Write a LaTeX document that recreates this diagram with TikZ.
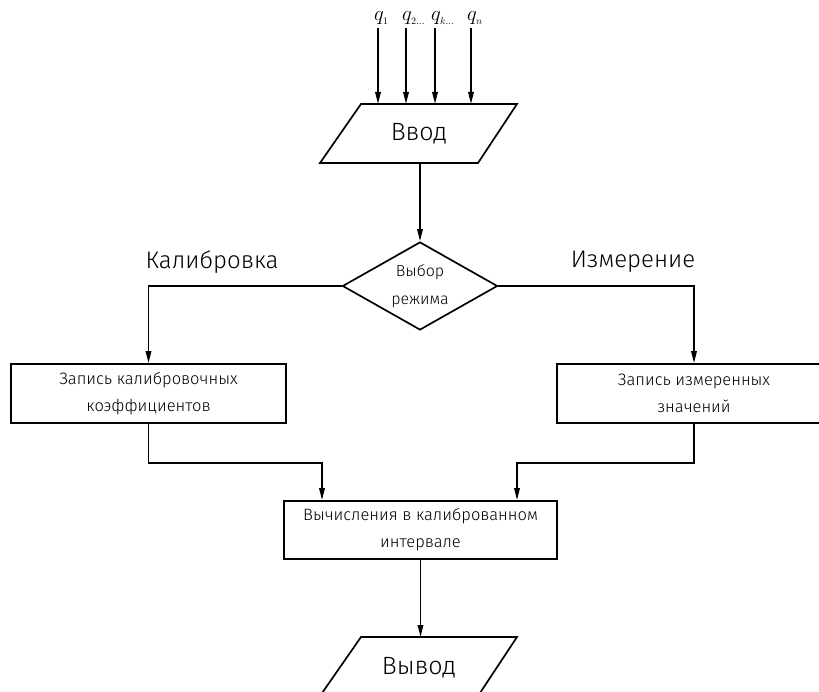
\documentclass[tikz,border=0pt]{standalone}
\usepackage{fontspec}
\setmainfont{Fira Sans Light}
\usetikzlibrary{arrows.meta,shapes.geometric}
\begin{document}
\begin{tikzpicture}[x=1pt,y=-1pt,
  line/.style={line width=1.7pt},
  arr/.style={line width=1.7pt,-{Triangle[length=12pt,width=5.5pt]}},
  box/.style={draw,line width=1.7pt,rectangle,inner sep=0pt,align=center,
    minimum height=59pt,font=\fontsize{16.5}{27}\selectfont},
  big/.style={font=\fontsize{25}{30}\selectfont},
  lbl/.style={font=\fontsize{24}{28}\selectfont},
  qlbl/.style={font=\fontsize{20}{22}\selectfont,inner sep=0pt}]
\useasboundingbox (0,0) rectangle (819,692);
\clip (0,0) rectangle (819,692);
% input parallelogram
\coordinate (inTL) at (361,104);
\coordinate (inTR) at (517,104);
\coordinate (inBR) at (478,163);
\coordinate (inBL) at (320,163);
\coordinate (inB) at (420,163);
\draw[line] (inTL) -- (inTR) -- (inBR) -- (inBL) -- cycle;
\node[big] (vvod) at (419,134) {Ввод};
% inputs
\node[qlbl,anchor=base west] (q1) at (374,21) {$q_{\scriptscriptstyle 1}$};
\node[qlbl,anchor=base west] (q2) at (402,21) {$q_{\scriptscriptstyle 2\ldots}$};
\node[qlbl,anchor=base west] (qk) at (431,21) {$q_{\scriptscriptstyle k\ldots}$};
\node[qlbl,anchor=base west] (qn) at (467,21) {$q_{\scriptscriptstyle n}$};
\coordinate (q1s) at (378,28);
\coordinate (q2s) at (406,28);
\coordinate (qks) at (435,28);
\coordinate (qns) at (471,28);
\foreach \c in {q1s,q2s,qks,qns}
  \draw[arr] (\c) -- (\c |- inTL);
% decision
\node[draw,diamond,aspect=1.76,minimum width=155pt,minimum height=88pt,
  inner sep=0pt,line width=1.7pt,align=center,
  font=\fontsize{16}{28}\selectfont] (dia) at (420,286) {Выбор\\режима};
\draw[arr] (inB) -- (dia.north);
\node[lbl] (cal) at (212,262) {Калибровка};
\node[lbl] (mes) at (633,262) {Измерение};
% boxes
\node[box,minimum width=275pt] (boxL) at (148.5,393.5) {Запись калибровочных\\коэффициентов};
\node[box,minimum width=274pt] (boxR) at (694,393.5) {Запись измеренных\\значений};
\node[box,minimum width=273pt,minimum height=58pt] (calc) at (420.5,530) {Вычисления в калиброванном\\интервале};
\draw[arr] (dia.west) -| (boxL.north);
\draw[arr] (dia.east) -| (boxR.north);
\draw[arr] (boxL.south) -- ++(0,39) -| ([xshift=-98.5pt]calc.north);
\draw[arr] (boxR.south) -- ++(0,39) -| ([xshift=96.5pt]calc.north);
% output parallelogram
\coordinate (outT) at (421,637);
\coordinate (oTL) at (361,637);
\coordinate (oTR) at (517,637);
\coordinate (oBR) at (478,696);
\coordinate (oBL) at (320,696);
\draw[line] (oBL) -- (oTL) -- (oTR) -- (oBR);
\node[big] (vyvod) at (419,668) {Вывод};
\draw[arr] (calc.south) -- (calc.south |- outT);
\end{tikzpicture}
\end{document}
